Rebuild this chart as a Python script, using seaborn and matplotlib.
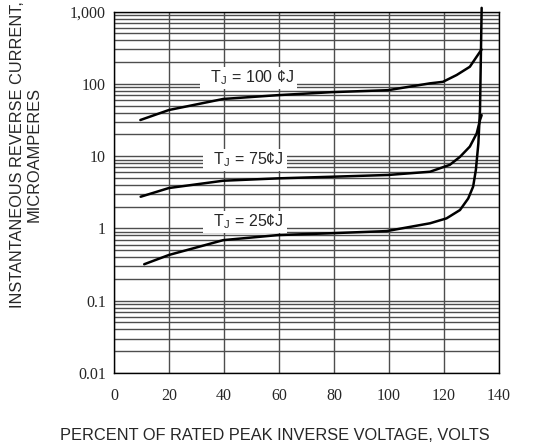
import numpy as np
import pandas as pd
import matplotlib
matplotlib.use('Agg')
import matplotlib.pyplot as plt
import seaborn as sns
from matplotlib.ticker import FixedLocator, LogLocator, NullFormatter

# curves (percent of rated PIV, microamperes)
pct_100 = [9.5, 19.9, 39.7, 59.6, 79.2, 99.7, 115.0, 119.7, 124.7, 129.5, 133.2, 133.8]
cur_100 = [31.7, 43.6, 62, 70, 77, 82, 102, 107, 133, 173, 279, 300]

pct_75 = [9.6, 19.9, 39.7, 59.7, 79.2, 99.7, 115.0, 122.2, 125.9, 129.5, 132.0, 133.2, 133.8]
cur_75 = [2.75, 3.63, 4.58, 4.94, 5.2, 5.5, 6.1, 7.6, 9.8, 13.6, 20.7, 31.7, 37]

pct_25 = [10.9, 19.9, 39.7, 59.6, 79.2, 99.2, 115.0, 121.0, 125.9, 128.9, 130.7,
          131.7, 132.6, 133.2, 133.8]
cur_25 = [0.32, 0.43, 0.69, 0.81, 0.86, 0.92, 1.18, 1.38, 1.8, 2.6, 3.8,
          6.5, 15, 44, 1130]

labels = ['  T$_\\mathregular{J}$ = 100 \u00a2J ', '  T$_\\mathregular{J}$ = 75\u00a2J ',
          '  T$_\\mathregular{J}$ = 25\u00a2J ']
label_x = [49.0, 47.5, 47.5]
label_y = [121, 8.9, 1.23]

x_ticks = [0, 20, 40, 60, 80, 100, 120, 140]
y_ticks = [0.01, 0.1, 1, 10, 100, 1000]
y_ticklabels = ['0.01', '0.1', '1', '10', '100', '1,000']

df = pd.concat([
    pd.DataFrame({'pct': pct_100, 'cur': cur_100, 'tj': '100'}),
    pd.DataFrame({'pct': pct_75, 'cur': cur_75, 'tj': '75'}),
    pd.DataFrame({'pct': pct_25, 'cur': cur_25, 'tj': '25'}),
])

sns.set_style('white')
plt.rcParams['font.family'] = ['Liberation Sans', 'DejaVu Sans']

fig = plt.figure(figsize=(5.45, 4.48), dpi=100)
ax = fig.add_axes([0.2097, 0.1674, 0.7053, 0.8065])

for tj in ['100', '75', '25']:
    sub = df[df['tj'] == tj]
    sns.lineplot(data=sub, x='pct', y='cur', sort=False, color='black',
                 linewidth=1.8, ax=ax, clip_on=False, zorder=4)

ax.set_yscale('log')
ax.set_xlim(0, 140)
ax.set_ylim(0.01, 1000)
ax.xaxis.set_major_locator(FixedLocator(x_ticks))
ax.yaxis.set_major_locator(FixedLocator(y_ticks))
ax.yaxis.set_minor_locator(LogLocator(base=10, subs=np.arange(2, 10)))
ax.yaxis.set_minor_formatter(NullFormatter())
ax.set_yticklabels(y_ticklabels)
ax.set_xticklabels([str(v) for v in x_ticks])

ax.grid(which='major', axis='both', color='0.3', linewidth=1.0, zorder=1)
ax.grid(which='minor', axis='y', color='0.3', linewidth=1.0, zorder=1)
ax.set_axisbelow(True)

ax.tick_params(axis='both', which='both', length=0)
ax.tick_params(axis='x', pad=11)
ax.tick_params(axis='y', pad=6)
for lab in ax.get_xticklabels() + ax.get_yticklabels():
    lab.set_fontfamily('Liberation Serif')
    lab.set_fontsize(11.5)

for sp in ax.spines.values():
    sp.set_color('black')
    sp.set_linewidth(1.0)

for txt, tx, ty in zip(labels, label_x, label_y):
    ax.text(tx, ty, txt, ha='center', va='center', fontsize=11.5, zorder=5,
            bbox=dict(boxstyle='square,pad=0.12', facecolor='white', edgecolor='none'))

ax.set_xlabel('')
ax.set_ylabel('')
fig.text(275 / 545, 1 - 435 / 448, 'PERCENT OF RATED PEAK INVERSE VOLTAGE, VOLTS',
         ha='center', va='center', fontsize=11.8)
fig.text(26 / 545, 1 - 155 / 448, 'INSTANTANEOUS REVERSE CURRENT,\nMICROAMPERES',
         ha='center', va='center', rotation=90, fontsize=11.8, linespacing=1.1)

fig.savefig('out.png', dpi=100)
